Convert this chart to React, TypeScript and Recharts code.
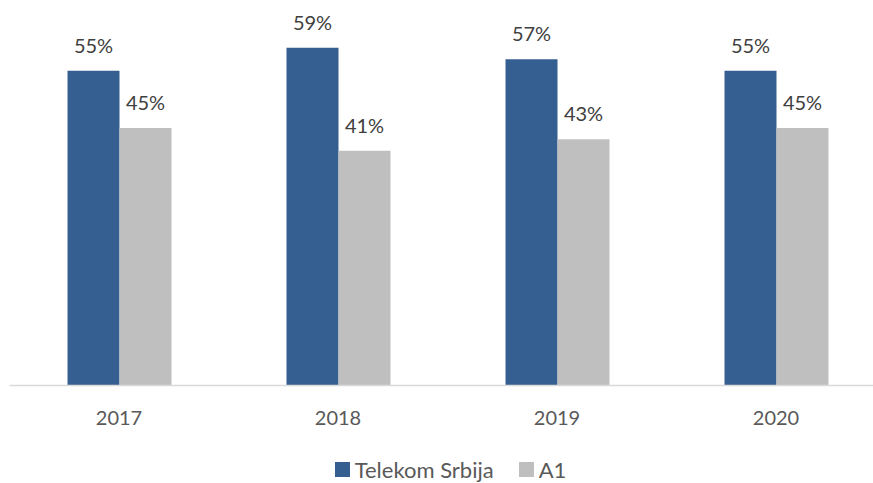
import { Bar, BarChart, LabelList, Legend, XAxis, YAxis } from "recharts";

const years = ["2017", "2018", "2019", "2020"];
const telekomSrbija = [55, 59, 57, 55];
const a1 = [45, 41, 43, 45];

const seriesNames = ["Telekom Srbija", "A1"];
const seriesColors = ["#365f91", "#bfbfbf"];

const data = years.map((year, i) => ({
  year,
  telekom: telekomSrbija[i],
  a1: a1[i],
}));

const font = "Lato, 'Open Sans', sans-serif";

function ChartLegend() {
  return (
    <div
      style={{
        height: 34,
        paddingTop: 14,
        boxSizing: "border-box",
        display: "flex",
        justifyContent: "center",
        alignItems: "center",
        gap: 25,
        paddingLeft: 6,
        fontFamily: font,
        fontSize: 22,
        lineHeight: "22px",
        color: "#595959",
      }}
    >
      {seriesNames.map((name, idx) => (
        <div key={name} style={{ display: "flex", alignItems: "center", gap: 5 }}>
          <span style={{ width: 15, height: 15, background: seriesColors[idx], display: "inline-block" }} />
          <span>{name}</span>
        </div>
      ))}
    </div>
  );
}

const pct = (v: number) => `${v}%`;

export default function App() {
  return (
    <div style={{ position: "absolute", left: 0, top: 0, width: 873, height: 483, overflow: "hidden", background: "#fff" }}>
      <BarChart
        width={890}
        height={483}
        data={data}
        margin={{ top: 42, right: 4.5, bottom: 3.5, left: 9.5 }}
        barGap={0}
        barSize={52}
      >
        <XAxis
          dataKey="year"
          axisLine={{ stroke: "#d9d9d9", strokeWidth: 1.5 }}
          tickLine={false}
          tickSize={0}
          tickMargin={25}
          height={60}
          tick={{ fill: "#595959", fontSize: 20, fontFamily: font }}
        />
        <YAxis hide domain={[0, 60]} />
        <Legend verticalAlign="bottom" content={() => <ChartLegend />} />
        <Bar dataKey="telekom" name={seriesNames[0]} fill={seriesColors[0]} isAnimationActive={false}>
          <LabelList
            dataKey="telekom"
            position="top"
            offset={18}
            formatter={pct}
            style={{ fill: "#404040", fontSize: 20, fontFamily: font }}
          />
        </Bar>
        <Bar dataKey="a1" name={seriesNames[1]} fill={seriesColors[1]} isAnimationActive={false}>
          <LabelList
            dataKey="a1"
            position="top"
            offset={18}
            formatter={pct}
            style={{ fill: "#404040", fontSize: 20, fontFamily: font }}
          />
        </Bar>
      </BarChart>
    </div>
  );
}
